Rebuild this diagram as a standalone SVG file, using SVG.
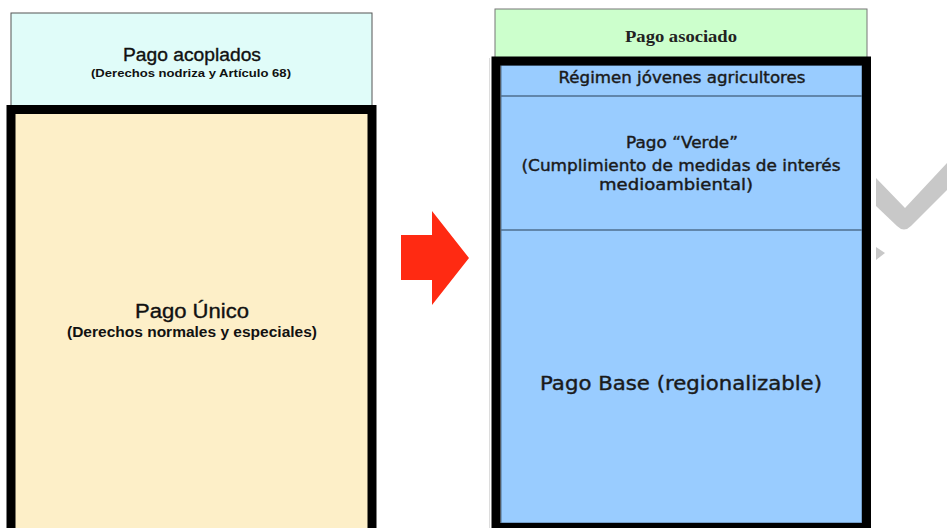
<svg xmlns="http://www.w3.org/2000/svg" width="947" height="528" viewBox="0 0 947 528">
<style>
.ar{font-family:"Liberation Sans",Arial,sans-serif;fill:#111;text-anchor:middle}
.hv{stroke:#111;stroke-width:0.35}
.gs{font-family:"DejaVu Sans","Liberation Sans",sans-serif;fill:#1a1a1a;stroke:#1a1a1a;stroke-width:0.4;text-anchor:middle}
.sf{font-family:"Liberation Serif","Times New Roman",serif;font-weight:bold;fill:#222;text-anchor:middle}
.frame{fill:none;stroke:#000;stroke-width:9}
.div{stroke:#4f6f8f;stroke-width:1.5}
</style>
<rect width="947" height="528" fill="#fff"/>
<g id="pago-acoplados">
<rect x="11" y="13" width="361" height="96" fill="#e0fcf9" stroke="#555" stroke-width="1"/>
<text class="ar hv" x="192" y="61" font-size="18" textLength="138" lengthAdjust="spacingAndGlyphs">Pago acoplados</text>
<text class="ar" x="191" y="77" font-size="11.5" font-weight="bold" textLength="200" lengthAdjust="spacingAndGlyphs">(Derechos nodriza y Artículo 68)</text>
</g>
<g id="pago-unico">
<rect x="11" y="109.5" width="361" height="430" fill="#fdefc8"/>
<rect class="frame" x="11" y="109.5" width="361" height="430"/>
<text class="ar hv" x="192" y="318" font-size="20" textLength="114" lengthAdjust="spacingAndGlyphs">Pago Único</text>
<text class="ar" x="192" y="337" font-size="14.5" font-weight="bold" textLength="250" lengthAdjust="spacingAndGlyphs">(Derechos normales y especiales)</text>
</g>
<g id="flecha">
<polygon points="401,235 432,235 432,211 469,258 432,305 432,280 401,280" fill="#ff2a12"/>
</g>
<line x1="489.5" y1="58" x2="489.5" y2="528" stroke="#dcdcdc" stroke-width="1"/>
<g id="pago-asociado">
<rect x="495" y="9" width="372" height="50" fill="#ccffcc" stroke="#777" stroke-width="1"/>
<text class="sf" x="681" y="42" font-size="16.5" textLength="112" lengthAdjust="spacingAndGlyphs">Pago asociado</text>
</g>
<g id="pagos-nuevos">
<rect x="501" y="65" width="361" height="458" fill="#99ccff" stroke="#4f6f8f" stroke-width="1"/>
<rect class="frame" x="496" y="61" width="370.5" height="466.5"/>
</g>
<g id="jovenes">
<text class="gs" x="682" y="83" font-size="15.5" textLength="247" lengthAdjust="spacingAndGlyphs">Régimen jóvenes agricultores</text>
</g>
<g id="pago-verde">
<text class="gs" x="682" y="148" font-size="15.5" textLength="112" lengthAdjust="spacingAndGlyphs">Pago “Verde”</text>
<text class="gs" x="681" y="171" font-size="15.5" textLength="319" lengthAdjust="spacingAndGlyphs">(Cumplimiento de medidas de interés</text>
<text class="gs" x="676" y="190" font-size="15.5" textLength="154" lengthAdjust="spacingAndGlyphs">medioambiental)</text>
</g>
<g id="pago-base">
<text class="gs" x="681" y="390" font-size="19" textLength="282" lengthAdjust="spacingAndGlyphs">Pago Base (regionalizable)</text>
</g>
<g id="connectors">
<line class="div" x1="501" y1="96" x2="862" y2="96"/>
<line class="div" x1="501" y1="230" x2="862" y2="230"/>
</g>
<g id="marca" fill="#c8c8c8">
<path d="M876,178 L905,208 L947,163 L947,190 L911,226 Q904,233 897,226 L876,206 Z"/>
<polygon points="876,247 885,253 876,260"/>
</g>
</svg>
